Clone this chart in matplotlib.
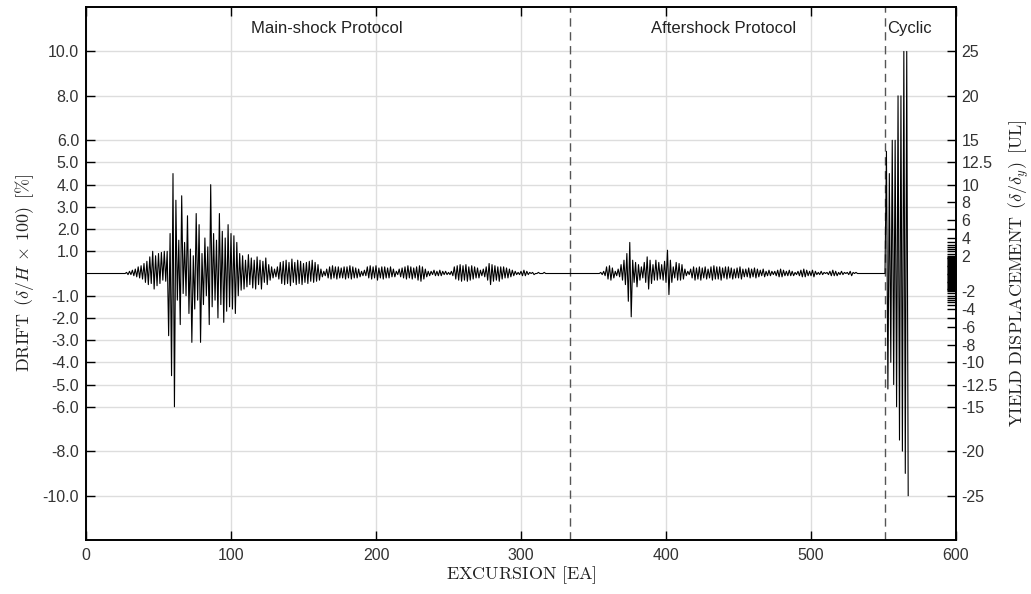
"""
Loading protocol plot: drift history vs excursion number for the
main-shock, aftershock and cyclic parts, with yield displacement on the right.
"""

import numpy as np
import matplotlib.pyplot as plt
from matplotlib.ticker import FixedLocator, FixedFormatter

OUT_PATH = "out.png"

# drift [%] per excursion, each block starts at the given excursion number
MAIN_START = 28
MAIN_DRIFT = [
    0.05, -0.05, 0.1, -0.05, 0.15, -0.1, 0.2, -0.15, 0.3, -0.2,
    0.35, -0.25, 0.45, -0.4, 0.55, -0.5, 0.75, -0.45, 1.0, -0.7,
    0.8, -0.55, 0.9, -0.45, 0.95, -0.3, 1.0, -0.35, 1.0, -2.8,
    1.8, -4.6, 4.5, -6.0, 3.3, -1.2, 1.5, -2.3, 3.5, -0.9,
    1.4, -1.0, 2.6, -1.8, 1.1, -3.1, 0.8, -1.6, 2.7, -1.2,
    2.2, -3.1, 0.9, -1.4, 1.6, -1.0, 1.2, -2.3, 4.0, -1.5,
    1.8, -1.2, 1.5, -2.0, 2.7, -1.4, 1.9, -2.2, 1.6, -1.7,
    2.2, -1.5, 1.8, -1.6, 1.7, -1.8, 1.4, -1.0, 0.9, -0.75,
    0.8, -0.7, 0.6, -0.6, 0.85, -0.5, 0.7, -0.65, 0.6, -0.7,
    0.75, -0.5, 0.6, -0.7, 0.55, -0.4, 0.7, -0.5, 0.4, -0.3,
    0.3, -0.2, 0.2, -0.15, 0.3, -0.25, 0.5, -0.45, 0.55, -0.5,
    0.6, -0.45, 0.5, -0.55, 0.65, -0.4, 0.5, -0.5, 0.6, -0.45,
    0.55, -0.5, 0.45, -0.4, 0.5, -0.45, 0.55, -0.35, 0.6, -0.4,
    0.5, -0.35, 0.4, -0.3, 0.2, -0.15, 0.1, -0.1, 0.2, -0.2,
    0.3, -0.25, 0.35, -0.2, 0.3, -0.25, 0.3, -0.2, 0.25, -0.2,
    0.3, -0.25, 0.3, -0.2, 0.35, -0.25, 0.3, -0.2, 0.25, -0.2,
    0.2, -0.15, 0.1, -0.1, 0.15, -0.1, 0.3, -0.2, 0.35, -0.25,
    0.3, -0.2, 0.35, -0.3, 0.25, -0.2, 0.3, -0.25, 0.3, -0.2,
    0.25, -0.2, 0.3, -0.15, 0.2, -0.15, 0.1, -0.05, 0.2, -0.15,
    0.25, -0.2, 0.3, -0.25, 0.35, -0.2, 0.3, -0.25, 0.25, -0.2,
    0.3, -0.3, 0.35, -0.35, 0.3, -0.25, 0.2, -0.15, 0.1, -0.1,
    0.1, -0.05, 0.15, -0.1, 0.1, -0.1, 0.15, -0.1, 0.1, -0.05,
    0.1, -0.05, 0.05, -0.05, 0.1, -0.1, 0.3, -0.25, 0.35, -0.3,
    0.4, -0.35, 0.35, -0.3, 0.4, -0.35, 0.3, -0.3, 0.35, -0.25,
    0.3, -0.2, 0.25, -0.2, 0.15, -0.1, 0.2, -0.15, 0.3, -0.3,
    0.45, -0.5, 0.4, -0.35, 0.35, -0.3, 0.3, -0.35, 0.3, -0.25,
    0.3, -0.2, 0.25, -0.2, 0.2, -0.15, 0.15, -0.1, 0.1, -0.05,
    0.05, -0.05, 0.1, -0.1, 0.15, -0.1, 0.1, -0.05, 0.05, 0.0,
    0.05, -0.05, 0.0, 0.0, 0.05, 0.0, 0.0, 0.0, 0.05, 0.0,
]

AFTER_START = 355
AFTER_DRIFT = [
    0.05, -0.05, 0.1, -0.1, 0.3, -0.25, 0.35, -0.3, 0.25, -0.2,
    0.1, -0.1, 0.2, -0.15, 0.4, -0.3, 0.6, -0.5, 0.9, -1.25,
    1.4, -1.95, 0.6, -0.4, 0.5, -0.6, 0.4, -0.3, 0.3, -0.2,
    0.5, -0.4, 0.75, -0.7, 0.6, -0.45, 0.4, -0.3, 0.6, -0.3,
    0.5, -0.25, 0.4, -0.3, 0.55, -0.4, 1.05, -0.95, 0.6, -0.4,
    0.3, -0.2, 0.5, -0.3, 0.45, -0.3, 0.4, -0.25, 0.2, -0.1,
    0.1, -0.05, 0.2, -0.2, 0.3, -0.3, 0.25, -0.25, 0.3, -0.3,
    0.25, -0.2, 0.3, -0.25, 0.2, -0.2, 0.3, -0.3, 0.35, -0.25,
    0.3, -0.25, 0.3, -0.3, 0.25, -0.2, 0.3, -0.25, 0.3, -0.2,
    0.25, -0.25, 0.2, -0.2, 0.25, -0.2, 0.3, -0.25, 0.2, -0.15,
    0.2, -0.15, 0.25, -0.2, 0.2, -0.15, 0.25, -0.2, 0.2, -0.15,
    0.15, -0.1, 0.2, -0.15, 0.1, -0.1, 0.15, -0.1, 0.1, -0.05,
    0.1, -0.1, 0.15, -0.15, 0.2, -0.15, 0.15, -0.1, 0.1, -0.1,
    0.15, -0.1, 0.1, -0.1, 0.05, -0.05, 0.1, -0.1, 0.15, -0.15,
    0.2, -0.15, 0.15, -0.1, 0.1, -0.1, 0.15, -0.15, 0.1, -0.05,
    0.05, -0.05, 0.1, -0.05, 0.05, 0.0, 0.05, -0.05, 0.1, -0.1,
    0.15, -0.1, 0.1, -0.1, 0.05, -0.05, 0.1, -0.05, 0.05, 0.0,
    0.05, -0.05, 0.1, -0.1, 0.05, 0.0, 0.05, 0.0, 0.0, 0.0,
]

CYCLIC_START = 552
CYCLIC_DRIFT = [5.5, -5.2, 4.5, -4.0, 6.0, -5.0, 6.0, -6.0,
                8.0, -7.5, 8.0, -8.0, 10.0, -9.0, 10.0, -10.0]

PROTOCOL_SPLITS = [334, 551]

DRIFT_TICKS = [-10, -8, -6, -5, -4, -3, -2, -1, 1, 2, 3, 4, 5, 6, 8, 10]
YIELD_TICKS = [-25, -20, -15, -12.5, -10, -8, -6, -4, -2,
               2, 4, 6, 8, 10, 12.5, 15, 20, 25]
YIELD_LABELS = ["-25", "-20", "-15", "-12.5", "-10", "-8", "-6", "-4", "-2",
                "2", "4", "6", "8", "10", "12.5", "15", "20", "25"]
YIELD_MINOR = [-5, -3.5, -3.25, -3, -2.75, -2.5, -2.25,
               -1.9, -1.8, -1.7, -1.6, -1.5, -1.4, -1.3, -1.2, -1.1, -1.0,
               -0.9, -0.8, -0.7, -0.6, -0.5, -0.4, -0.3, -0.2, -0.1, 0,
               0.1, 0.2, 0.3, 0.4, 0.5, 0.6, 0.7, 0.8, 0.9,
               1.0, 1.1, 1.2, 1.3, 1.4, 1.5, 1.6, 1.7, 1.8, 1.9,
               2.25, 2.5, 2.75, 3, 3.25, 3.5, 5]
YIELD_PER_DRIFT = 2.5

plt.rcParams["mathtext.fontset"] = "cm"
plt.rcParams["font.family"] = ["Liberation Sans", "DejaVu Sans"]


def main():
    n = CYCLIC_START + len(CYCLIC_DRIFT)
    drift = np.zeros(n)
    drift[MAIN_START:MAIN_START + len(MAIN_DRIFT)] = MAIN_DRIFT
    drift[AFTER_START:AFTER_START + len(AFTER_DRIFT)] = AFTER_DRIFT
    drift[CYCLIC_START:] = CYCLIC_DRIFT
    excursion = np.arange(n)

    fig = plt.figure(figsize=(10.31, 5.94), dpi=100)
    ax = fig.add_axes([0.0834, 0.0909, 0.8439, 0.8973])

    ax.plot(excursion, drift, color="black", linewidth=0.8, zorder=3)
    for xs in PROTOCOL_SPLITS:
        ax.axvline(xs, color="#555555", linestyle=(0, (6, 4)), linewidth=1.0, zorder=2)

    ax.set_xlim(0, 600)
    ax.set_ylim(-12, 12)
    ax.set_xticks(range(0, 601, 100))
    ax.set_yticks(DRIFT_TICKS)
    ax.set_yticklabels([f"{t:.1f}" for t in DRIFT_TICKS])
    ax.grid(True, color="#dddddd", linewidth=1.0, zorder=0)
    ax.set_axisbelow(True)
    ax.tick_params(axis="both", direction="in", length=6.5, width=1.0,
                   labelsize=11.5, labelcolor="#333333", top=True)
    ax.tick_params(axis="y", pad=5)
    ax.tick_params(axis="x", pad=6)
    for sp in ax.spines.values():
        sp.set_linewidth(1.2)

    ax.set_xlabel(r"$\mathrm{EXCURSION\ [EA]}$", fontsize=13, labelpad=1, color="#222222")
    ax.set_ylabel(r"$\mathrm{DRIFT}\ \,(\delta/H\, \times\, 100)\ \,[\%]$", fontsize=13,
                  labelpad=5, color="#222222")

    ax2 = ax.twinx()
    ax2.set_ylim(-12 * YIELD_PER_DRIFT, 12 * YIELD_PER_DRIFT)
    ax2.yaxis.set_major_locator(FixedLocator(YIELD_TICKS))
    ax2.yaxis.set_major_formatter(FixedFormatter(YIELD_LABELS))
    ax2.yaxis.set_minor_locator(FixedLocator(YIELD_MINOR))
    ax2.tick_params(axis="y", which="major", direction="in", length=6.5, width=1.0,
                    labelsize=11.5, labelcolor="#333333", pad=4)
    ax2.tick_params(axis="y", which="minor", direction="in", length=6.5, width=1.0)
    ax2.set_ylabel(r"$\mathrm{YIELD\ DISPLACEMENT}\ \,(\delta/\delta_y)\ \,[\mathrm{UL}]$",
                   fontsize=13, labelpad=6, color="#222222")
    for sp in ax2.spines.values():
        sp.set_linewidth(1.2)

    ax.text(166, 11.05, "Main-shock Protocol", ha="center", va="center",
            fontsize=12, color="#222222")
    ax.text(440, 11.05, "Aftershock Protocol", ha="center", va="center",
            fontsize=12, color="#222222")
    ax.text(552.5, 11.05, "Cyclic", ha="left", va="center",
            fontsize=12, color="#222222")

    fig.savefig(OUT_PATH, dpi=100)


if __name__ == "__main__":
    main()
